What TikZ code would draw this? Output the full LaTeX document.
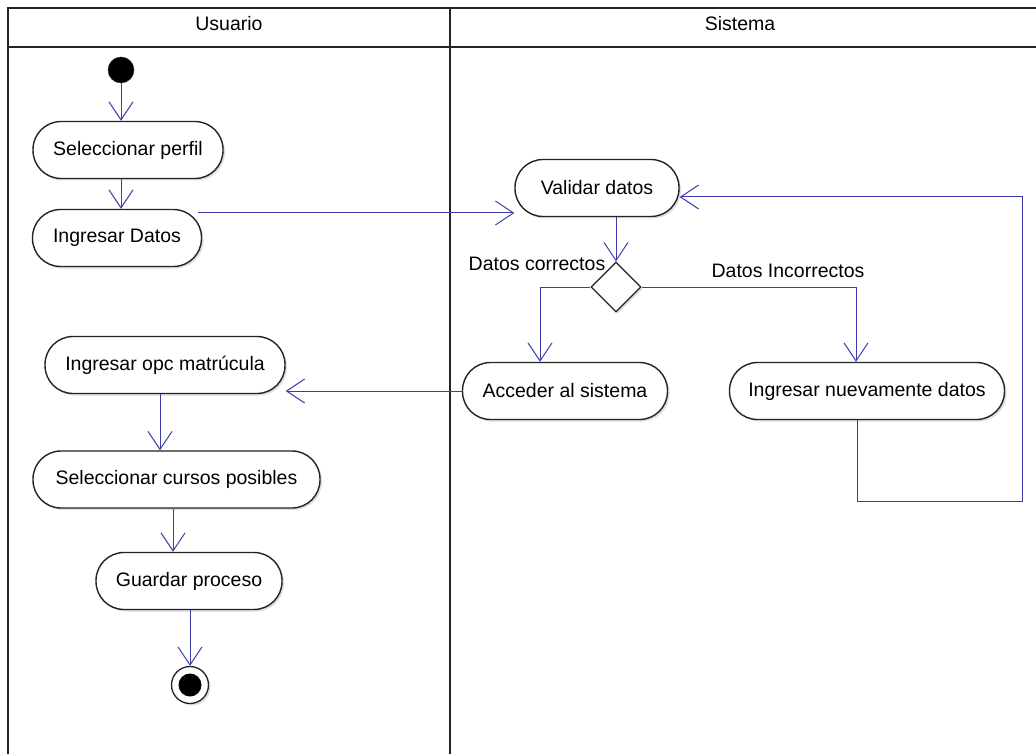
\documentclass[tikz,border=0pt]{standalone}
\usepackage{fontspec}
\setmainfont{Liberation Sans}
\usetikzlibrary{shapes.geometric,arrows.meta,calc,shadows}
\definecolor{flow}{RGB}{60,60,170}
\definecolor{edge}{RGB}{35,35,35}
\begin{document}
\begin{tikzpicture}[x=1pt,y=-1pt,
  txt/.style={font=\fontsize{19.5}{23}\selectfont, inner sep=0pt},
  act/.style={txt, draw=edge, line width=1.4pt, rounded corners=28pt, fill=white,
    minimum height=57pt,
    drop shadow={shadow xshift=2pt, shadow yshift=-2pt, opacity=0.25}},
  lane/.style={draw=edge, line width=1.5pt},
  flowarrow/.style={draw=flow, line width=1pt, -{Straight Barb[length=18pt,width=24pt]}},
  decision/.style={diamond, draw=edge, line width=1.3pt, fill=white, inner sep=0pt,
    minimum width=50pt, minimum height=50pt,
    drop shadow={shadow xshift=2pt, shadow yshift=-2pt, opacity=0.25}}]

\useasboundingbox (0,0) rectangle (1036,754);
\clip (0,0) rectangle (1036,754);
\fill[white] (0,0) rectangle (1036,754);

% swimlanes
\draw[lane] (8,8) rectangle (1050,770);
\draw[lane] (8,47) -- (1050,47);
\draw[lane] (450,8) -- (450,770);
\node[txt] (hu) at (229,24) {Usuario};
\node[txt] (hs) at (740,24) {Sistema};

% start and end
\node[circle, fill=black, draw=edge, minimum size=26pt, inner sep=0pt] (start) at (121,70) {};
\node[circle, draw=edge, fill=white, line width=1.3pt, minimum size=37pt, inner sep=0pt,
  drop shadow={shadow xshift=2pt, shadow yshift=-2pt, opacity=0.25}] (end) at (190,685) {};
\node[circle, fill=black, minimum size=23pt, inner sep=0pt] (endin) at (end.center) {};

% activities: Usuario
\node[act, minimum width=190pt] (sp) at (128,150) {Seleccionar perfil};
\node[act, minimum width=169pt] (id) at (117,238) {Ingresar Datos};
\node[act, minimum width=240pt] (io) at (165,365) {Ingresar opc matrúcula};
\node[act, minimum width=287pt] (sc) at (176.5,479.5) {Seleccionar cursos posibles};
\node[act, minimum width=186pt] (gp) at (189,581) {Guardar proceso};

% activities: Sistema
\node[act, minimum width=164pt] (vd) at (597,188) {Validar datos};
\node[decision] (dia) at (616,287) {};
\node[act, minimum width=205pt] (acc) at (565,391) {Acceder al sistema};
\node[act, minimum width=275pt] (ind) at (867,391) {Ingresar nuevamente datos};

% guard labels
\node[txt] (lc) at (537,264) {Datos correctos};
\node[txt] (li) at (788,271) {Datos Incorrectos};

% flows
\draw[flowarrow] (start) -- (start |- sp.north);
\draw[flowarrow] (sp.south -| start) -- (id.north -| start);
\coordinate (r1) at (0,213);
\draw[flowarrow] ($(id.east |- r1)+(-4,0)$) -- (vd.west |- r1);
\draw[flowarrow] (vd.south -| dia.north) -- (dia.north);
\draw[flowarrow] (dia.west) -| ($(acc.north)+(-25,0)$);
\draw[flowarrow] (dia.east) -| ($(ind.north)+(-11,0)$);
\coordinate (lp) at (1022,501);
\draw[flowarrow] ($(ind.south)+(-10,0)$) |- (lp) |- ($(vd.east)+(0,9)$);
\draw[flowarrow] (acc.west) -- (io.east |- acc.west);
\draw[flowarrow] ($(io.south)+(-5,0)$) -- ($(sc.north)+(-16.5,0)$);
\draw[flowarrow] ($(sc.south)+(-3.5,0)$) -- ($(gp.north)+(-16,0)$);
\draw[flowarrow] ($(gp.south)+(1,0)$) -- (end.north);
\end{tikzpicture}
\end{document}
